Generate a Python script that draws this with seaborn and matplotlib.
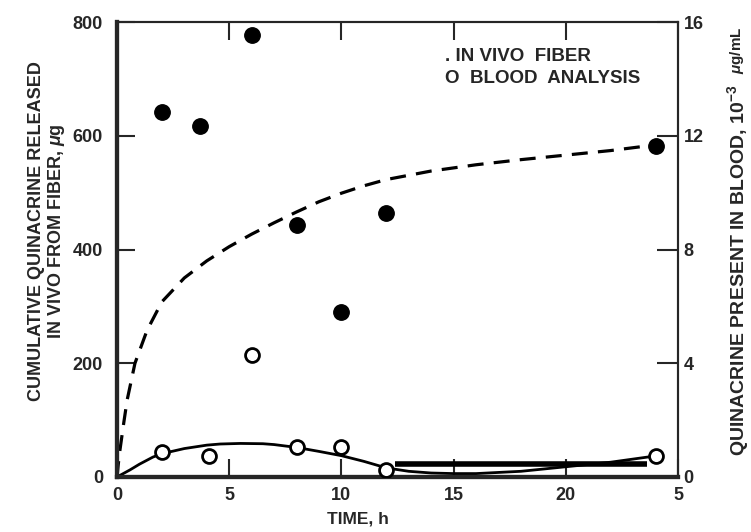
import numpy as np
import pandas as pd
import matplotlib
matplotlib.use("Agg")
import matplotlib.pyplot as plt
import seaborn as sns

# filled circles: cumulative quinacrine released in vivo from fiber (ug), left axis
fiber_t = [2, 3.7, 6, 8, 10, 12, 24]
fiber_v = [641, 618, 777, 443, 290, 465, 582]

# dashed fitted curve for the fiber release (left axis)
fit_t = [0, 0.05, 0.13, 0.3, 0.45, 0.8, 1.34, 2, 3, 4, 5, 6, 7, 8, 9,
         10, 11, 12, 14, 16, 18, 20, 22, 24]
fit_v = [0, 20, 47, 95, 135, 200, 258, 308, 350, 380, 405, 427, 447, 466, 484,
         499, 512, 523, 538, 549, 558, 566, 574, 584]

# open circles: quinacrine present in blood (10^-3 ug/mL), right axis
blood_t = [2, 4.1, 6, 8, 10, 12, 24]
blood_v = [0.88, 0.74, 4.3, 1.04, 1.06, 0.25, 0.74]

# solid curve through the blood data (right axis)
bcurve_t = [0, 0.58, 1, 1.6, 2, 3, 4, 4.6, 5.5, 6.5, 7, 8, 9, 10, 11, 12, 13,
            14, 15, 16, 18, 20, 22, 24]
bcurve_v = [0, 0.25, 0.45, 0.7, 0.82, 1.0, 1.12, 1.16, 1.18, 1.17, 1.14, 1.04,
            0.9, 0.75, 0.55, 0.32, 0.2, 0.14, 0.12, 0.12, 0.2, 0.36, 0.52, 0.74]

# thick stray bar printed near the baseline in the original
bar_t = [12.4, 23.6]
bar_v = [0.45, 0.45]

x_ticks = [0, 5, 10, 15, 20, 25]
x_labels = ["0", "5", "10", "15", "20", "5"]
left_ticks = [0, 200, 400, 600, 800]
right_ticks = [0, 4, 8, 12, 16]

sns.set_style("ticks")
plt.rcParams['font.family'] = ['Liberation Sans', 'DejaVu Sans']
plt.rcParams['font.weight'] = 'bold'
plt.rcParams['mathtext.fontset'] = 'custom'
plt.rcParams['mathtext.rm'] = 'Liberation Sans:bold'
plt.rcParams['mathtext.it'] = 'Liberation Sans:italic:bold'

fig = plt.figure(figsize=(7.51, 5.32), dpi=100)
ax = fig.add_axes([0.1558, 0.1034, 0.747, 0.8552])
ax2 = ax.twinx()

fiber = pd.DataFrame({"t": fiber_t, "v": fiber_v})
fit = pd.DataFrame({"t": fit_t, "v": fit_v})
blood = pd.DataFrame({"t": blood_t, "v": blood_v})
bcurve = pd.DataFrame({"t": bcurve_t, "v": bcurve_v})

sns.lineplot(data=fit, x="t", y="v", ax=ax, color="black", lw=2.3,
             linestyle=(0, (5, 3.2)), sort=False)
sns.scatterplot(data=fiber, x="t", y="v", ax=ax, color="black", s=125,
                edgecolor="black", zorder=5)

sns.lineplot(data=bcurve, x="t", y="v", ax=ax2, color="black", lw=2, sort=False)
ax2.plot(bar_t, bar_v, color="black", lw=4, solid_capstyle="butt")
sns.scatterplot(data=blood, x="t", y="v", ax=ax2, facecolor="white",
                edgecolor="black", linewidth=2, s=100, zorder=5)

ax.set_xlim(0, 25)
ax.set_ylim(0, 800)
ax2.set_ylim(0, 16)
ax.set_xticks(x_ticks)
ax.set_xticklabels(x_labels)
ax.set_yticks(left_ticks)
ax2.set_yticks(right_ticks)

ax.tick_params(axis="x", direction="in", length=13, width=1.5, pad=7,
               labelsize=13, top=True)
ax.tick_params(axis="y", direction="in", length=13, width=1.5, pad=10,
               labelsize=13)
ax2.tick_params(axis="y", direction="in", length=15, width=1.5, pad=4,
                labelsize=13)

for a in (ax, ax2):
    a.spines["left"].set_linewidth(3)
    a.spines["bottom"].set_linewidth(3)
    a.spines["top"].set_linewidth(1.5)
    a.spines["right"].set_linewidth(1.5)
    a.spines["top"].set_visible(True)
    a.spines["right"].set_visible(True)

ax.set_xlabel("TIME, h", fontsize=12.5, fontweight="bold")
ax.xaxis.set_label_coords(0.43, -0.075)
ax.set_ylabel("CUMULATIVE QUINACRINE RELEASED\nIN VIVO FROM FIBER, $\\mu$g",
              fontsize=13, fontweight="bold", linespacing=1.1)
ax.yaxis.set_label_coords(-0.089, 0.54)
ax2.set_ylabel("QUINACRINE PRESENT IN BLOOD, 10$^{-3}$",
               fontsize=14, fontweight="bold")
ax2.yaxis.set_label_coords(1.084, 0.455)
fig.text(0.982, 0.905, "$\\mu$g/mL", rotation=90, fontsize=11,
         fontweight="bold", ha="center", va="center")

ax.text(0.585, 0.925, ". IN VIVO  FIBER", transform=ax.transAxes, fontsize=13.5,
        fontweight="bold", va="center")
ax.text(0.585, 0.876, "O  BLOOD  ANALYSIS", transform=ax.transAxes,
        fontsize=13.5, fontweight="bold", va="center")

fig.savefig("out.png", dpi=100)
